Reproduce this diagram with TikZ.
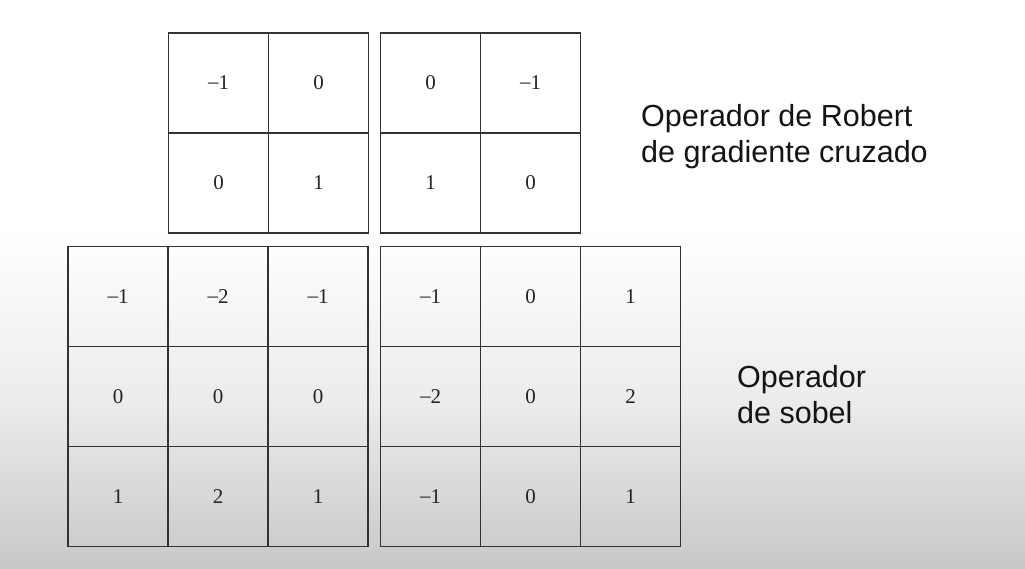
\documentclass[tikz,border=0pt]{standalone}
\usepackage{fontspec}
\setmainfont{Liberation Serif}
\newfontfamily\labelfont{Liberation Sans}
\definecolor{gridcol}{RGB}{50,50,50}
\definecolor{numcol}{RGB}{35,35,35}
\definecolor{bgbot}{RGB}{200,200,200}
\definecolor{bgmid}{RGB}{236,236,236}
\definecolor{txtcol}{RGB}{20,20,20}
\newcommand{\mn}{\raisebox{0.06em}{–}}
\begin{document}
\begin{tikzpicture}[x=1pt,y=-1pt,
  cell/.style={draw=gridcol, line width=1.4pt, minimum width=100pt, minimum height=100pt,
    inner sep=0pt, font=\fontsize{21}{21}\selectfont, text=numcol},
  lbl/.style={anchor=base west, inner sep=0pt, font=\labelfont\fontsize{30.5}{36}\selectfont, text=txtcol}]
\useasboundingbox (0,0) rectangle (1025,569);
\fill[white] (0,0) rectangle (1025,569);
\shade[top color=white, bottom color=bgmid] (0,230) rectangle (1025,400);
\shade[top color=bgmid, bottom color=bgbot] (0,400) rectangle (1025,569);
% Robert (top-left)
\foreach \r/\c/\v in {1/1/\mn1, 1/2/0, 2/1/0, 2/2/1}
  \node[cell] (A-\r-\c) at (118.5+100*\c, -17+100*\r) {\v};
% Robert (top-right)
\foreach \r/\c/\v in {1/1/0, 1/2/\mn1, 2/1/1, 2/2/0}
  \node[cell] (B-\r-\c) at (330.5+100*\c, -17+100*\r) {\v};
% Sobel (bottom-left)
\foreach \r/\c/\v in {1/1/\mn1, 1/2/\mn2, 1/3/\mn1, 2/1/0, 2/2/0, 2/3/0, 3/1/1, 3/2/2, 3/3/1}
  \node[cell] (C-\r-\c) at (18+100*\c, 196.5+100*\r) {\v};
% Sobel (bottom-right)
\foreach \r/\c/\v in {1/1/\mn1, 1/2/0, 1/3/1, 2/1/\mn2, 2/2/0, 2/3/2, 3/1/\mn1, 3/2/0, 3/3/1}
  \node[cell] (D-\r-\c) at (330.5+100*\c, 196.5+100*\r) {\v};
% labels
\node[lbl] (rob1) at (641,127) {Operador de Robert};
\node[lbl] (rob2) at (641,162.5) {de gradiente cruzado};
\node[lbl] (sob1) at (737,387) {Operador};
\node[lbl] (sob2) at (737,423) {de sobel};
\end{tikzpicture}
\end{document}
